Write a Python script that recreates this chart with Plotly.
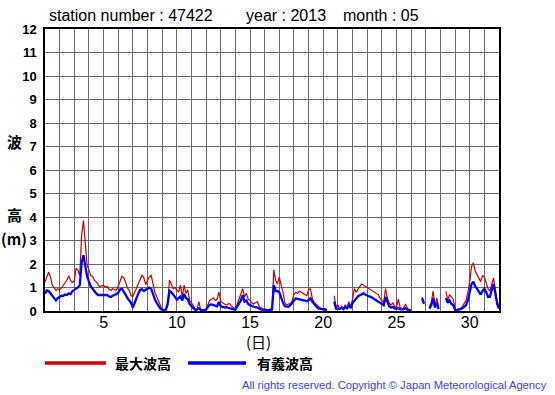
import plotly.graph_objects as go

# 3-hourly readings, 8 values per day (00,03,...,21h), days 1..31, plus day 32 00h
max_wave = [
    1.23, 1.50, 1.66, 1.45, 1.10, 0.98, 0.88, 0.95,   # 1
    0.90, 0.98, 1.10, 1.20, 1.32, 1.50, 1.30, 1.22,   # 2
    1.28, 1.82, 1.74, 1.50, 3.20, 3.85, 2.90, 1.95,   # 3
    1.75, 1.50, 1.48, 1.30, 1.25, 1.12, 1.02, 1.08,   # 4
    1.09, 1.02, 1.04, 0.92, 0.88, 0.95, 0.90, 0.88,   # 5
    1.05, 1.25, 1.48, 1.42, 1.25, 0.98, 0.88, 0.65,   # 6
    0.62, 0.80, 0.98, 1.10, 1.30, 1.52, 1.42, 1.12,   # 7
    1.30, 1.45, 1.52, 1.08, 0.80, 0.62, 0.42, 0.22,   # 8
    0.07, 0.05, 0.08, 0.25, 1.32, 1.15, 0.95, 1.00,   # 9
    0.90, 0.80, 1.10, 0.60, 1.10, 0.75, 0.90, 0.45,   # 10
    0.35, 0.20, 0.10, 0.05, 0.40, 0.08, 0.05, 0.05,   # 11
    0.10, 0.30, 0.45, 0.50, 0.55, 0.45, 0.50, 0.80,   # 12
    0.40, 0.35, 0.30, 0.25, 0.30, 0.30, 0.20, 0.15,   # 13
    0.10, 0.30, 0.55, 0.70, 0.95, 0.60, 0.75, 0.50,   # 14
    0.45, 0.35, 0.30, 0.35, 0.40, 0.20, 0.15, 0.08,   # 15
    0.10, 0.05, 0.05, 0.08, 0.12, 1.75, 1.30, 1.15,   # 16
    1.45, 1.10, 0.80, 0.35, 0.25, 0.30, 0.30, 0.45,   # 17
    0.70, 0.80, 0.75, 0.85, 0.80, 0.75, 0.70, 0.65,   # 18
    0.90, 0.95, 0.55, 0.35, 0.30, 0.20, 0.15, 0.10,   # 19
    0.08, 0.10, 0.05, None, None, None, 0.65, 0.15,   # 20
    0.25, 0.10, 0.20, 0.10, 0.25, 0.15, 0.40, 0.15,   # 21
    0.50, 0.95, 0.80, 0.95, 1.05, 1.15, 1.10, 1.05,   # 22
    1.00, 0.95, 0.90, 0.85, 0.80, 0.75, 0.70, 0.55,   # 23
    0.45, 0.35, 0.95, 0.55, 0.35, 0.25, 0.35, 0.20,   # 24
    0.15, 0.50, 0.15, 0.10, 0.15, 0.30, 0.10, 0.05,   # 25
    0.05, None, None, None, None, None, 0.60, 0.35,   # 26
    None, None, 0.20, 0.35, 0.85, 0.25, 0.55, 0.15,   # 27
    None, None, None, 0.85, 0.45, 0.70, 0.60, 0.50,   # 28
    0.10, 0.05, 0.10, 0.10, 0.20, 0.30, 0.45, 0.80,   # 29
    1.25, 1.90, 2.05, 1.70, 1.55, 1.40, 1.25, 1.50,   # 30
    1.45, 1.20, 0.95, 0.85, 1.15, 1.40, 0.90, 0.40,   # 31
    0.20,
]

sig_wave = [
    0.74, 0.88, 0.85, 0.75, 0.60, 0.50, 0.45, 0.55,   # 1
    0.60, 0.65, 0.65, 0.70, 0.68, 0.75, 0.72, 0.85,   # 2
    0.90, 0.95, 1.00, 1.10, 2.05, 2.37, 1.85, 1.48,   # 3
    1.25, 1.05, 0.95, 0.82, 0.75, 0.68, 0.68, 0.70,   # 4
    0.67, 0.70, 0.68, 0.62, 0.60, 0.65, 0.68, 0.72,   # 5
    0.78, 0.92, 0.95, 0.85, 0.70, 0.55, 0.45, 0.35,   # 6
    0.15, 0.38, 0.60, 0.75, 0.90, 0.92, 0.85, 0.90,   # 7
    0.95, 1.00, 0.95, 0.70, 0.50, 0.35, 0.20, 0.10,   # 8
    0.05, 0.04, 0.05, 0.30, 0.85, 0.80, 0.72, 0.60,   # 9
    0.48, 0.55, 0.62, 0.45, 0.72, 0.55, 0.50, 0.30,   # 10
    0.20, 0.12, 0.06, 0.05, 0.12, 0.05, 0.04, 0.04,   # 11
    0.05, 0.18, 0.26, 0.28, 0.25, 0.22, 0.20, 0.38,   # 12
    0.20, 0.18, 0.15, 0.16, 0.14, 0.12, 0.10, 0.08,   # 13
    0.05, 0.20, 0.35, 0.45, 0.68, 0.40, 0.45, 0.30,   # 14
    0.25, 0.20, 0.18, 0.16, 0.15, 0.10, 0.06, 0.04,   # 15
    0.04, 0.03, 0.03, 0.04, 0.06, 1.10, 0.85, 0.85,   # 16
    0.80, 0.55, 0.35, 0.20, 0.18, 0.18, 0.25, 0.35,   # 17
    0.47, 0.54, 0.52, 0.50, 0.48, 0.47, 0.45, 0.42,   # 18
    0.47, 0.54, 0.40, 0.30, 0.20, 0.12, 0.10, 0.08,   # 19
    0.08, 0.05, 0.04, None, None, None, 0.40, 0.10,   # 20
    0.10, 0.08, 0.14, 0.08, 0.18, 0.12, 0.25, 0.12,   # 21
    0.35, 0.45, 0.55, 0.62, 0.67, 0.72, 0.75, 0.70,   # 22
    0.65, 0.62, 0.60, 0.55, 0.52, 0.47, 0.42, 0.38,   # 23
    0.32, 0.25, 0.60, 0.35, 0.20, 0.15, 0.18, 0.10,   # 24
    0.10, 0.12, 0.08, 0.06, 0.08, 0.12, 0.06, 0.04,   # 25
    0.03, None, None, None, None, None, 0.55, 0.30,   # 26
    None, None, 0.10, 0.25, 0.55, 0.15, 0.35, 0.08,   # 27
    None, None, None, 0.55, 0.35, 0.45, 0.30, 0.25,   # 28
    0.05, 0.04, 0.05, 0.08, 0.12, 0.18, 0.25, 0.45,   # 29
    0.80, 1.15, 1.25, 1.05, 0.95, 0.85, 0.70, 0.85,   # 30
    0.95, 0.80, 0.60, 0.60, 0.85, 1.15, 0.75, 0.30,   # 31
    0.10,
]

hours = list(range(0, 31 * 24 + 1, 3))
days = [1 + h / 24 for h in hours]

x_tick_vals = [5, 10, 15, 20, 25, 30]
y_tick_vals = list(range(0, 13))

RED = "#cc0000"
BLUE = "#0000ff"
GRID = "#6a6a6a"
FONT = "Liberation Sans, Arial, sans-serif"
CJK = "Noto Sans CJK JP, sans-serif"

fig = go.Figure()
fig.add_trace(go.Scatter(x=days, y=max_wave, mode="lines", name="最大波高",
                         line=dict(color=RED, width=1.2), connectgaps=False,
                         showlegend=False))
fig.add_trace(go.Scatter(x=days, y=sig_wave, mode="lines", name="有義波高",
                         line=dict(color=BLUE, width=2.3), connectgaps=False,
                         showlegend=False))

L, R, T, B = 45, 56, 29, 84
W, H = 555, 395
pw, ph = W - L - R, H - T - B


def px(xp):
    return (xp - L) / pw


def py(yp):
    return (H - B - yp) / ph


fig.update_layout(
    width=W, height=H,
    margin=dict(l=L, r=R, t=T, b=B),
    paper_bgcolor="white", plot_bgcolor="white",
    showlegend=False,
    xaxis=dict(range=[1, 32], tickmode="array", tickvals=x_tick_vals,
               ticks="", showgrid=True, gridcolor=GRID, gridwidth=1,
               minor=dict(tickmode="linear", tick0=1, dtick=1, showgrid=True,
                          gridcolor=GRID, gridwidth=1, ticks=""),
               showline=True, linecolor="black", linewidth=1.5, mirror=True,
               zeroline=False, ticklabelstandoff=-4,
               tickfont=dict(family=FONT, size=16, color="black")),
    yaxis=dict(range=[0, 12], tickmode="array", tickvals=y_tick_vals,
               ticks="", showgrid=True, gridcolor=GRID, gridwidth=1,
               showline=True, linecolor="black", linewidth=1.5, mirror=True,
               zeroline=False, ticklabelstandoff=4,
               tickfont=dict(family=FONT, size=13, color="black", weight="bold")),
)

ann = []


def add_text(text, xp, yp, size, family=FONT, color="black", bold=False, xanchor="left"):
    ann.append(dict(text=text, x=px(xp), y=py(yp), xref="paper", yref="paper",
                    xanchor=xanchor, yanchor="middle", showarrow=False,
                    font=dict(family=family, size=size, color=color,
                              weight="bold" if bold else "normal")))


add_text("station number : 47422", 47, 16, 16)
add_text("year : 2013", 244, 16, 16)
add_text("month : 05", 341, 16, 16)
add_text("波", 14, 141, 15, family=CJK, bold=True, xanchor="center")
add_text("高", 14, 214, 15, family=CJK, bold=True, xanchor="center")
add_text("(m)", 14, 238, 15, family=CJK, bold=True, xanchor="center")
add_text("(日)", 258, 341, 15, family=CJK, xanchor="center")
add_text("最大波高", 143, 363, 14, family=CJK, bold=True, xanchor="center")
add_text("有義波高", 285, 363, 14, family=CJK, bold=True, xanchor="center")
add_text("All rights reserved. Copyright © Japan Meteorological Agency", 549, 385, 11.2,
         color="#4040ff", xanchor="right")
fig.update_layout(annotations=ann)

fig.add_shape(type="line", xref="paper", yref="paper", x0=px(45), x1=px(106),
              y0=py(363), y1=py(363), line=dict(color=RED, width=3.5))
fig.add_shape(type="line", xref="paper", yref="paper", x0=px(188), x1=px(246),
              y0=py(363), y1=py(363), line=dict(color=BLUE, width=3.5))

fig.write_html("out.html", config={"displayModeBar": False},
               post_script="document.body.style.margin='0';document.body.style.overflow='hidden';")
